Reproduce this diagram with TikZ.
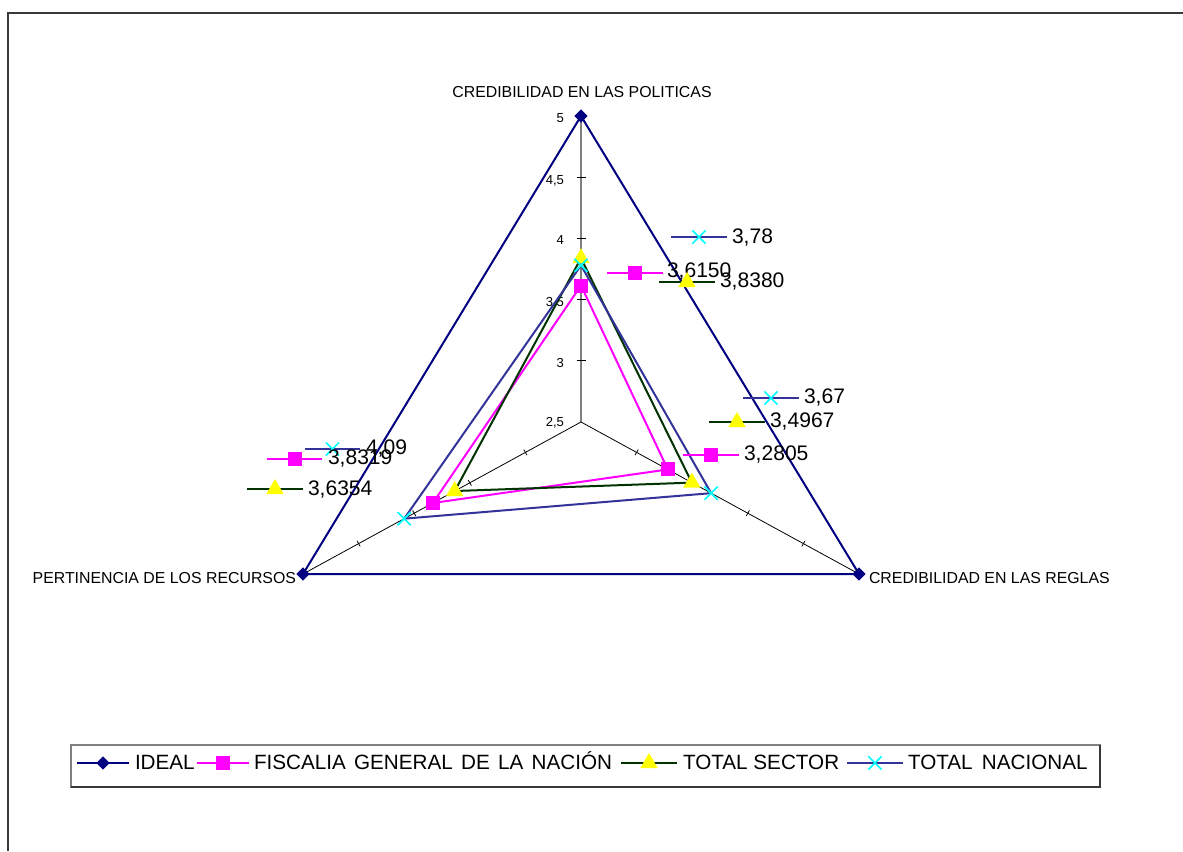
\documentclass[tikz,border=0pt]{standalone}
\usepackage{fontspec}
\setmainfont{Liberation Sans}
\usetikzlibrary{calc,shapes.geometric,shapes.misc}
\definecolor{ideal}{HTML}{000080}
\definecolor{fisc}{HTML}{FF00FF}
\definecolor{sectl}{HTML}{003300}
\definecolor{sectm}{HTML}{FFFF00}
\definecolor{nacl}{HTML}{333399}
\definecolor{nacm}{HTML}{00FFFF}
\definecolor{framec}{HTML}{383838}
\begin{document}
\begin{tikzpicture}[x=0.75pt,y=-0.75pt,
  txt/.style={inner sep=0pt, outer sep=0pt, text height=0.72em, text depth=0pt, yshift=-1.6pt},
  axlab/.style={txt, font=\fontsize{11.9}{13}\selectfont},
  ticklab/.style={txt, anchor=east, font=\fontsize{9.8}{11}\selectfont},
  vallab/.style={txt, anchor=west, font=\fontsize{15.8}{18}\selectfont},
  leglab/.style={txt, anchor=west, font=\fontsize{15.5}{17}\selectfont},
  sline/.style={line width=1.5pt},
  mdiam/.style={diamond, fill=ideal, inner sep=0pt, minimum width=10pt, minimum height=10pt},
  msq/.style={rectangle, fill=fisc, inner sep=0pt, minimum size=10.5pt},
  mtri/.style={regular polygon, regular polygon sides=3, fill=sectm, inner sep=0pt, minimum size=15pt},
  mx/.style={cross out, draw=nacm, line width=1.3pt, inner sep=0pt, minimum size=8.5pt}
]
\useasboundingbox (0,0) rectangle (1183,851);
% frame
\draw[framec, line width=1.6pt] (8,851) -- (8,13) -- (1183,13);

% axes geometry
\coordinate (C) at (581,422);
\coordinate (T) at (581,116);
\coordinate (R) at (859,574);
\coordinate (L) at (303,574);

% axes
\draw[gray, line width=1.4pt] (C) -- (T);
\draw[black, line width=0.6pt] (C) -- (R);
\draw[black, line width=0.6pt] (C) -- (L);
\foreach \f in {0.2,0.4,0.6,0.8}{
  \draw[black, line width=1pt] ($(C)!\f!(T)+(-4.5,0)$) -- ($(C)!\f!(T)+(4.5,0)$);
  \draw[black, line width=0.6pt] ($(C)!\f!(R)+(-1.6,2.8)$) -- ($(C)!\f!(R)+(1.6,-2.8)$);
  \draw[black, line width=0.6pt] ($(C)!\f!(L)+(1.6,2.8)$) -- ($(C)!\f!(L)+(-1.6,-2.8)$);
}
% tick labels
\node[ticklab] (t25) at (564,420) {2,5};
\node[ticklab] (t30) at (564,361) {3};
\node[ticklab] (t35) at (564,300) {3,5};
\node[ticklab] (t40) at (564,238) {4};
\node[ticklab] (t45) at (564,178) {4,5};
\node[ticklab] (t50) at (564,116) {5};

% axis labels
\node[axlab] (aT) at (582,91) {CREDIBILIDAD EN LAS POLITICAS};
\node[axlab, anchor=west] (aR) at (869,577) {CREDIBILIDAD EN LAS REGLAS};
\node[axlab, anchor=east] (aL) at (296,577) {PERTINENCIA DE LOS RECURSOS};

% data points
\coordinate (f1) at ($(C)!{(3.6150-2.5)/2.5}!(T)$);
\coordinate (f2) at ($(C)!{(3.2805-2.5)/2.5}!(R)$);
\coordinate (f3) at ($(C)!{(3.8319-2.5)/2.5}!(L)$);
\coordinate (s1) at ($(C)!{(3.8380-2.5)/2.5}!(T)$);
\coordinate (s2) at ($(C)!{(3.4967-2.5)/2.5}!(R)$);
\coordinate (s3) at ($(C)!{(3.6354-2.5)/2.5}!(L)$);
\coordinate (n1) at ($(C)!{(3.78-2.5)/2.5}!(T)$);
\coordinate (n2) at ($(C)!{(3.67-2.5)/2.5}!(R)$);
\coordinate (n3) at ($(C)!{(4.09-2.5)/2.5}!(L)$);

% series IDEAL
\draw[ideal, sline] (T) -- (R) -- (L) -- cycle;
\node[mdiam] (dT) at (T) {};
\node[mdiam] (dR) at (R) {};
\node[mdiam] (dL) at (L) {};
% series FISCALIA
\draw[fisc, sline] (f1) -- (f2) -- (f3) -- cycle;
\node[msq] (qf1) at (f1) {};
\node[msq] (qf2) at (f2) {};
\node[msq] (qf3) at (f3) {};
% series TOTAL SECTOR
\draw[sectl, sline] (s1) -- (s2) -- (s3) -- cycle;
\node[mtri] (ts1) at (s1) {};
\node[mtri] (ts2) at (s2) {};
\node[mtri] (ts3) at (s3) {};
% series TOTAL NACIONAL
\draw[nacl, sline] (n1) -- (n2) -- (n3) -- cycle;
\node[mx] (xn1) at (n1) {};
\node[mx] (xn2) at (n2) {};
\node[mx] (xn3) at (n3) {};

% data labels (legend-key style)
% top
\coordinate (kn1a) at (671,237); \coordinate (kn1b) at (727,237);
\draw[nacl, sline] (kn1a) -- (kn1b);
\node[mx] (kn1m) at ($(kn1a)!0.5!(kn1b)$) {};
\node[vallab] (vn1) at (732,237) {3,78};

\coordinate (kf1a) at (607,273); \coordinate (kf1b) at (663,273);
\draw[fisc, sline] (kf1a) -- (kf1b);
\node[msq] (kf1m) at ($(kf1a)!0.5!(kf1b)$) {};
\node[vallab] (vf1) at (667,271) {3,6150};

\coordinate (ks1a) at (659,282); \coordinate (ks1b) at (715,282);
\draw[sectl, sline] (ks1a) -- (ks1b);
\node[mtri] (ks1m) at ($(ks1a)!0.5!(ks1b)$) {};
\node[vallab] (vs1) at (720,281) {3,8380};

% right
\coordinate (kn2a) at (743,398); \coordinate (kn2b) at (799,398);
\draw[nacl, sline] (kn2a) -- (kn2b);
\node[mx] (kn2m) at ($(kn2a)!0.5!(kn2b)$) {};
\node[vallab] (vn2) at (804,397) {3,67};

\coordinate (ks2a) at (709,422); \coordinate (ks2b) at (765,422);
\draw[sectl, sline] (ks2a) -- (ks2b);
\node[mtri] (ks2m) at ($(ks2a)!0.5!(ks2b)$) {};
\node[vallab] (vs2) at (770,421) {3,4967};

\coordinate (kf2a) at (683,455); \coordinate (kf2b) at (739,455);
\draw[fisc, sline] (kf2a) -- (kf2b);
\node[msq] (kf2m) at ($(kf2a)!0.5!(kf2b)$) {};
\node[vallab] (vf2) at (744,454) {3,2805};

% left
\coordinate (kn3a) at (305,449); \coordinate (kn3b) at (360,449);
\draw[nacl, sline] (kn3a) -- (kn3b);
\node[mx] (kn3m) at ($(kn3a)!0.5!(kn3b)$) {};
\node[vallab] (vn3) at (366,448) {4,09};

\coordinate (kf3a) at (267,459); \coordinate (kf3b) at (322,459);
\draw[fisc, sline] (kf3a) -- (kf3b);
\node[msq] (kf3m) at ($(kf3a)!0.5!(kf3b)$) {};
\node[vallab] (vf3) at (328,458) {3,8319};

\coordinate (ks3a) at (247,489); \coordinate (ks3b) at (303,489);
\draw[sectl, sline] (ks3a) -- (ks3b);
\node[mtri] (ks3m) at ($(ks3a)!0.5!(ks3b)$) {};
\node[vallab] (vs3) at (308,489) {3,6354};

% legend
\draw[gray, line width=1.2pt] (71,745) rectangle (1100,787);
\draw[framec, line width=1.4pt] (71,787) -- (1100,787) -- (1100,745);

\coordinate (la1) at (77,763); \coordinate (lb1) at (129,763);
\draw[ideal, sline] (la1) -- (lb1);
\node[mdiam] (lm1) at ($(la1)!0.5!(lb1)$) {};
\node[leglab] (lt1) at (135,763) {IDEAL};

\coordinate (la2) at (197,763); \coordinate (lb2) at (249,763);
\draw[fisc, sline] (la2) -- (lb2);
\node[msq] (lm2) at ($(la2)!0.5!(lb2)$) {};
\node[leglab] (lt2) at (254,763) {FISCALIA\hspace{0.4em}GENERAL\hspace{0.4em}DE\hspace{0.4em}LA\hspace{0.4em}NACIÓN};

\coordinate (la3) at (621,763); \coordinate (lb3) at (677,763);
\draw[sectl, sline] (la3) -- (lb3);
\node[mtri] (lm3) at ($(la3)!0.5!(lb3)$) {};
\node[leglab] (lt3) at (683,763) {TOTAL SECTOR};

\coordinate (la4) at (847,763); \coordinate (lb4) at (903,763);
\draw[nacl, sline] (la4) -- (lb4);
\node[mx] (lm4) at ($(la4)!0.5!(lb4)$) {};
\node[leglab] (lt4) at (908,763) {TOTAL\hspace{0.45em}NACIONAL};
\end{tikzpicture}
\end{document}
